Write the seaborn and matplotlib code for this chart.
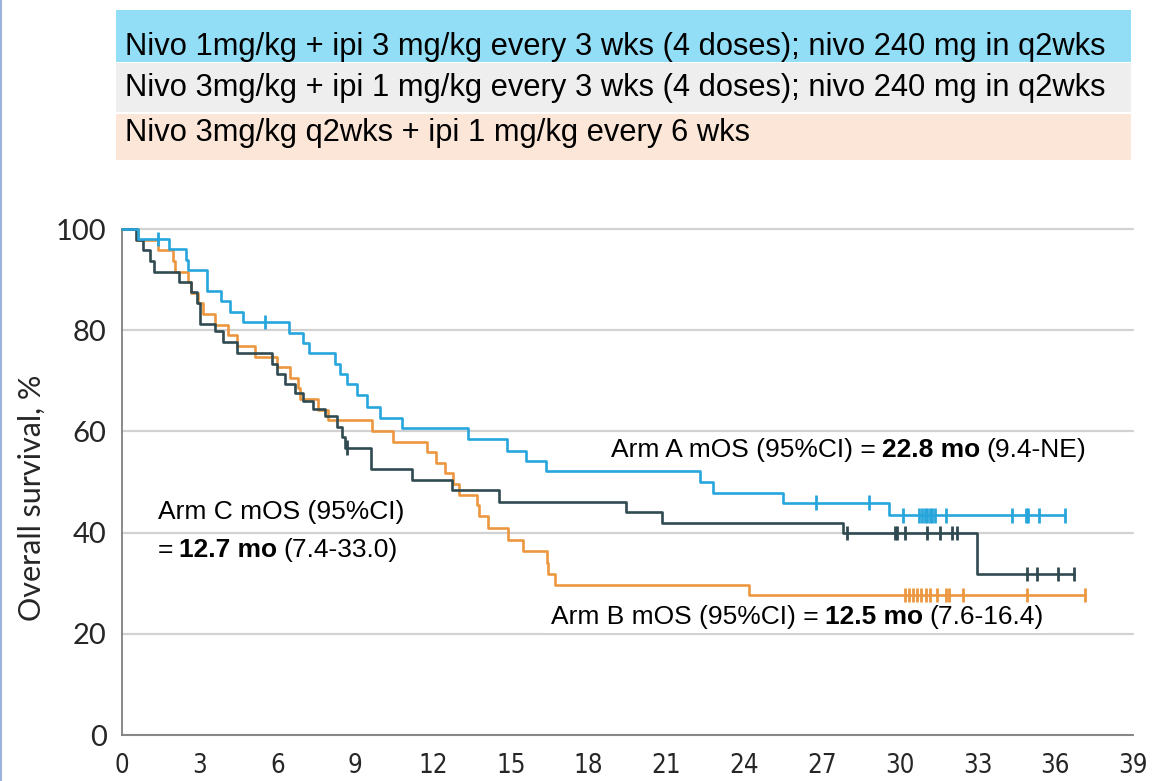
import numpy as np
import pandas as pd
import matplotlib
matplotlib.use("Agg")
import matplotlib.pyplot as plt
import seaborn as sns
from matplotlib.patches import Rectangle
from matplotlib.lines import Line2D
from matplotlib.offsetbox import TextArea, HPacker, VPacker, AnnotationBbox

# ---- Kaplan-Meier step data (months, % surviving) ----
# Arm A: nivo 1 mg/kg + ipi 3 mg/kg
arm_a_time = [0, 0.63, 1.83, 2.47, 2.56, 3.29, 3.80, 4.15, 4.68, 6.45, 7.00, 7.23,
              8.22, 8.41, 8.67, 9.05, 9.44, 9.95, 10.79, 13.36, 14.84, 15.57, 16.37,
              22.28, 22.80, 25.50, 29.60]
arm_a_surv = [100, 98.0, 96.0, 93.9, 91.8, 87.7, 85.7, 83.6, 81.6, 79.5, 77.5, 75.4,
              73.4, 71.3, 69.3, 67.1, 64.8, 62.7, 60.6, 58.5, 56.2, 54.2, 52.1,
              50.0, 47.9, 45.9, 43.4]
arm_a_censor = [1.38, 5.52, 26.77, 28.80, 30.12, 30.76, 30.86, 30.96, 31.06, 31.16,
                31.26, 31.36, 31.79, 34.32, 34.88, 34.96, 35.39, 36.38]
arm_a_end = 36.38

# Arm B: nivo 3 mg/kg + ipi 1 mg/kg
arm_b_time = [0, 0.63, 1.40, 1.95, 2.04, 2.56, 2.66, 2.95, 3.14, 3.60, 4.10, 4.42,
              5.13, 5.97, 6.48, 6.80, 6.87, 7.58, 7.96, 9.63, 10.47, 11.77, 12.10,
              12.46, 12.75, 13.00, 13.70, 13.78, 14.13, 14.90, 15.47, 16.38, 16.45,
              16.72, 24.20]
arm_b_surv = [100, 97.9, 95.8, 93.7, 91.6, 89.5, 87.4, 85.3, 83.2, 81.1, 79.0, 76.9,
              74.8, 72.7, 70.6, 68.5, 66.4, 64.3, 62.2, 60.1, 58.0, 55.9, 53.8,
              51.7, 49.6, 47.5, 45.4, 43.3, 41.0, 38.6, 36.3, 34.0, 31.8,
              29.7, 27.7]
arm_b_censor = [30.20, 30.36, 30.52, 30.68, 30.84, 31.00, 31.17, 31.43, 31.80, 31.90,
                32.43, 34.90, 37.16]
arm_b_end = 37.16

# Arm C: nivo 3 mg/kg q2wks + ipi 1 mg/kg q6wks
arm_c_time = [0, 0.54, 0.82, 1.08, 1.23, 2.20, 2.67, 2.90, 3.01, 3.59, 3.90, 4.42,
              5.77, 5.97, 6.29, 6.67, 6.99, 7.38, 7.83, 8.30, 8.48, 8.60, 9.59,
              11.18, 12.72, 14.54, 19.45, 20.84, 27.83, 32.98]
arm_c_surv = [100, 97.9, 95.8, 93.7, 91.6, 89.5, 87.5, 85.4, 81.3, 79.8, 77.6, 75.4,
              73.4, 71.4, 69.3, 67.6, 66.1, 64.5, 63.0, 60.8, 58.8, 56.8, 52.6,
              50.4, 48.4, 46.0, 44.1, 41.9, 39.9, 31.8]
arm_c_censor = [8.67, 27.98, 29.82, 29.90, 30.21, 31.04, 31.56, 32.01, 32.20, 34.93,
                35.30, 36.10, 36.73]
arm_c_end = 36.73

arm_colors = {"A": "#27a6db", "B": "#ec973f", "C": "#2f4a50"}

regimens = [
    "Nivo 1mg/kg + ipi 3 mg/kg every 3 wks (4 doses); nivo 240 mg in q2wks",
    "Nivo 3mg/kg + ipi 1 mg/kg every 3 wks (4 doses); nivo 240 mg in q2wks",
    "Nivo 3mg/kg q2wks + ipi 1 mg/kg every 6 wks",
]
regimen_colors = ["#93def7", "#eeeeee", "#fce6d8"]

x_ticks = list(range(0, 40, 3))
y_ticks = list(range(0, 101, 20))

# ---- tidy frames ----
arms = {
    "A": (arm_a_time, arm_a_surv, arm_a_censor, arm_a_end),
    "B": (arm_b_time, arm_b_surv, arm_b_censor, arm_b_end),
    "C": (arm_c_time, arm_c_surv, arm_c_censor, arm_c_end),
}
step_rows, cens_rows = [], []
for name, (t, s, c, end) in arms.items():
    t = np.asarray(t, float)
    s = np.asarray(s, float)
    for ti, si in zip(np.append(t, end), np.append(s, s[-1])):
        step_rows.append((name, ti, si))
    idx = np.searchsorted(t, np.asarray(c), side="right") - 1
    for ci, si in zip(c, s[idx]):
        cens_rows.append((name, ci, si))
steps = pd.DataFrame(step_rows, columns=["arm", "month", "surv"])
cens = pd.DataFrame(cens_rows, columns=["arm", "month", "surv"])

# ---- figure ----
sns.set_style("white")
narrow = ["Liberation Sans Narrow", "Liberation Sans", "DejaVu Sans"]
plt.rcParams["font.family"] = narrow

fig = plt.figure(figsize=(11.52, 7.81), dpi=100)
ax = fig.add_axes([122 / 1152, 46 / 781, 1011 / 1152, 506 / 781])

draw_order = ["B", "C", "A"]
sns.lineplot(data=steps, x="month", y="surv", hue="arm", hue_order=draw_order,
             palette=arm_colors, estimator=None, sort=False, drawstyle="steps-post",
             linewidth=1.9, legend=False, ax=ax, zorder=3)
sns.scatterplot(data=cens, x="month", y="surv", hue="arm", hue_order=draw_order,
                palette=arm_colors, marker="|", s=110, linewidth=2.0, legend=False,
                ax=ax, zorder=4)
for ln in ax.lines:
    ln.set_clip_on(False)

ax.set_xlim(0, 39)
ax.set_ylim(0, 100)
ax.set_xticks(x_ticks)
ax.set_yticks(y_ticks)
ax.set_xticklabels([str(v) for v in x_ticks], family="DejaVu Sans",
                   fontstretch="condensed", fontsize=18.5)
ax.set_yticklabels([str(v) for v in y_ticks], family="Lato", fontsize=21)
ax.tick_params(axis="both", direction="out", length=7, width=1.3, color="#808080",
               pad=4)
ax.tick_params(axis="x", pad=6)
ax.set_xlabel("")
ax.set_ylabel("Overall survival, %", family="Lato", fontsize=22)
ax.yaxis.set_label_coords(-0.075, 0.468)

for side in ["top", "right"]:
    ax.spines[side].set_visible(False)
for side in ["left", "bottom"]:
    ax.spines[side].set_color("#808080")
    ax.spines[side].set_linewidth(1.3)
ax.set_axisbelow(True)
ax.yaxis.grid(True, color="#d2d2d2", linewidth=1.6)
ax.xaxis.grid(False)
for gl in ax.get_ygridlines():
    gl.set_clip_on(False)


def rich(parts, size):
    areas = [TextArea(s, textprops=dict(fontsize=size, fontweight=w, family=narrow,
                                        color="black")) for s, w in parts]
    return HPacker(children=areas, align="baseline", pad=0, sep=size * 0.23)


txt_size = 19
box_a = rich([("Arm A mOS (95%CI) =", "normal"), ("22.8 mo", "bold"),
              ("(9.4-NE)", "normal")], txt_size)
ax.add_artist(AnnotationBbox(box_a, (18.87, 56.3), xycoords="data",
                             box_alignment=(0, 0.5), frameon=False, pad=0,
                             zorder=2))

box_c = VPacker(children=[rich([("Arm C mOS (95%CI)", "normal")], txt_size),
                          rich([("=", "normal"), ("12.7 mo", "bold"),
                                ("(7.4-33.0)", "normal")], txt_size)],
                align="left", pad=0, sep=10)
ax.add_artist(AnnotationBbox(box_c, (1.39, 40.4), xycoords="data",
                             box_alignment=(0, 0.5), frameon=False, pad=0,
                             zorder=2))

box_b = rich([("Arm B mOS (95%CI) =", "normal"), ("12.5 mo", "bold"),
              ("(7.6-16.4)", "normal")], txt_size)
ax.add_artist(AnnotationBbox(box_b, (16.55, 23.3), xycoords="data",
                             box_alignment=(0, 0.5), frameon=True, pad=0.3,
                             bboxprops=dict(facecolor="white", edgecolor="none"),
                             zorder=2))

# regimen key bands above the plot
band_px = [(10, 62), (63, 112), (114, 160)]
baselines_px = [55, 96, 141]
for label, color, (top, bot), base in zip(regimens, regimen_colors, band_px, baselines_px):
    fig.add_artist(Rectangle((116 / 1152, 1 - bot / 781), 1015 / 1152, (bot - top) / 781,
                             transform=fig.transFigure, facecolor=color,
                             edgecolor="none", zorder=0))
    fig.text(125 / 1152, 1 - base / 781, label, family=narrow, fontsize=22.2,
             va="baseline", ha="left", color="black")

fig.add_artist(Line2D([0.7 / 1152, 0.7 / 1152], [0, 1], transform=fig.transFigure,
                      color="#9db4da", linewidth=1.5))

fig.savefig("out.png", dpi=100)
